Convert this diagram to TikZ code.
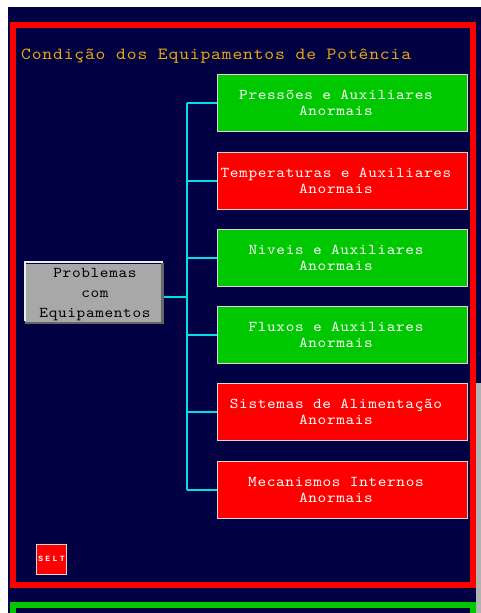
\documentclass[tikz,border=0pt]{standalone}
\usepackage{fontspec}
\newfontfamily\pixfont{lmmono10-regular.otf}[FakeStretch=1.1, LetterSpace=4.3]
\newfontfamily\titlefont{lmmono10-regular.otf}[FakeStretch=1.1, LetterSpace=4.9]
\newfontfamily\tinyfont{Liberation Mono Bold}[LetterSpace=30]
\newcommand\lsh{\kern12pt}
\definecolor{navy}{HTML}{000042}
\definecolor{frred}{HTML}{FF0000}
\definecolor{frgreen}{HTML}{00C800}
\definecolor{linecyan}{HTML}{00E0E8}
\definecolor{titleor}{HTML}{E8A810}
\definecolor{btngray}{HTML}{A8A8A8}
\definecolor{boxedge}{HTML}{D8D8D8}
\tikzset{
  optbox/.style={draw=boxedge, line width=1pt, minimum width=250pt, minimum height=57pt,
    inner sep=0pt, font=\pixfont\fontsize{15}{16}\selectfont, text=white, align=center},
  okbox/.style={optbox, fill=frgreen},
  badbox/.style={optbox, fill=frred},
  tree/.style={draw=linecyan, line width=2pt},
}
\begin{document}
\begin{tikzpicture}[x=1pt, y=-1pt]
\useasboundingbox (0,0) rectangle (481,613);
\clip (0,0) rectangle (481,613);
\fill[white] (0,0) rectangle (481,613);
\fill[navy] (8,7) rectangle (481,613);
% frames
\draw[frred, line width=5.5pt] (12.8,24.8) rectangle (473.2,585.2);
\draw[frgreen, line width=5.5pt] (12.8,604.8) rectangle (473.2,700);
\fill[gray!60!white] (476,383) rectangle (481,613);
% title
\node[anchor=west, inner sep=0pt, text=titleor, font=\titlefont\fontsize{17}{18}\selectfont] (title) at (21,56) {Condição dos Equipamentos de Potência};
% option boxes
\node[okbox]  (b1) at (342,102.5) {Pressões e Auxiliares\lsh\\Anormais\lsh};
\node[badbox] (b2) at (342,180.5) {Temperaturas e Auxiliares\lsh\\Anormais\lsh};
\node[okbox]  (b3) at (342,257.5) {Niveis e Auxiliares\lsh\\Anormais\lsh};
\node[okbox]  (b4) at (342,334.5) {Fluxos e Auxiliares\lsh\\Anormais\lsh};
\node[badbox] (b5) at (342,411.5) {Sistemas de Alimentação\lsh\\Anormais\lsh};
\node[badbox] (b6) at (342,489.5) {Mecanismos Internos\lsh\\Anormais\lsh};
% gray button
\node[fill=btngray, minimum width=139pt, minimum height=58pt, inner sep=0pt] (prob) at (94,292.5) {};
\draw[white!85!gray, line width=2pt] (prob.south west) ++(1,-1) |- ([xshift=-1pt,yshift=1pt]prob.north east);
\draw[black!60, line width=2.5pt] ([xshift=-1.2pt]prob.north east) |- ([xshift=1pt,yshift=-1.2pt]prob.south west);
\node[font=\pixfont\fontsize{15}{20}\selectfont, text=black, align=center, inner sep=0pt] (probtxt) at (95,295)
  {Problemas\\com\\Equipamentos};
% tree connectors
\coordinate (trunk) at (187,297);
\draw[tree] (prob.east |- trunk) -- (trunk);
\draw[tree] (trunk |- b1.west) -- (trunk |- b6.west);
\foreach \b in {b1,b2,b3,b4,b5,b6}{
  \draw[tree] (trunk |- \b.west) -- (\b.west);
}
% SELT button
\node[fill=frred, draw=boxedge, line width=1pt, minimum width=30pt, minimum height=30pt, inner sep=0pt,
  text=white, font=\tinyfont\fontsize{8}{8}\selectfont] (selt) at (51.5,559) {SELT};
\end{tikzpicture}
\end{document}
